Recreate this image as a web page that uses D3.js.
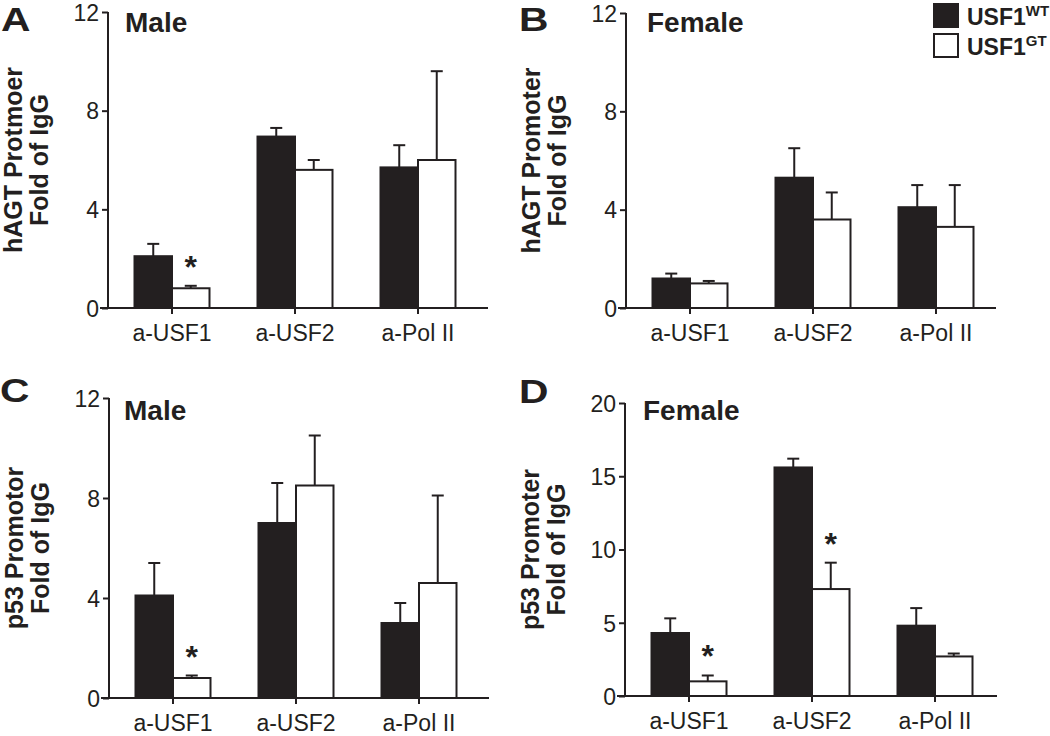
<!DOCTYPE html>
<html>
<head>
<meta charset="utf-8">
<script src="https://cdn.jsdelivr.net/npm/d3@7"></script>
<style>
  html, body { margin: 0; padding: 0; background: #fff; }
  svg { display: block; font-family: "Liberation Sans", Arial, Helvetica, sans-serif; }
</style>
</head>
<body>
<svg id="chart" width="1050" height="736"></svg>
<script>
// ---------------- data ----------------
const categories = ["a-USF1", "a-USF2", "a-Pol II"];
const seriesNames = ["USF1", "USF1"];
const seriesSup = ["WT", "GT"];

const aWT = [2.1, 6.95, 5.7];
const aWTerr = [0.5, 0.35, 0.9];
const aGT = [0.8, 5.6, 6.0];
const aGTerr = [0.1, 0.4, 3.6];
const aStar = [true, false, false];

const bWT = [1.2, 5.3, 4.1];
const bWTerr = [0.2, 1.2, 0.9];
const bGT = [1.0, 3.6, 3.3];
const bGTerr = [0.1, 1.1, 1.7];
const bStar = [false, false, false];

const cWT = [4.1, 7.0, 3.0];
const cWTerr = [1.3, 1.6, 0.8];
const cGT = [0.8, 8.5, 4.6];
const cGTerr = [0.1, 2.0, 3.5];
const cStar = [true, false, false];

const dWT = [4.3, 15.6, 4.8];
const dWTerr = [1.0, 0.6, 1.2];
const dGT = [1.0, 7.3, 2.7];
const dGTerr = [0.4, 1.8, 0.2];
const dStar = [true, true, false];

const yTicksAB = [0, 4, 8, 12];
const yTicksC = [0, 4, 8, 12];
const yTicksD = [0, 5, 10, 15, 20];

const panelLetters = ["A", "B", "C", "D"];
const panelTitles = ["Male", "Female", "Male", "Female"];
const yTitles = [
  ["hAGT Protmoer", "Fold of IgG"],
  ["hAGT Promoter", "Fold of IgG"],
  ["p53 Promotor", "Fold of IgG"],
  ["p53 Promoter", "Fold of IgG"]
];

// ---------------- layout ----------------
const INK = "#231f20";
const layout = [
  { axisX: 108, y0: 308, yTop: 12, max: 12, ticks: yTicksAB, axisEnd: 380, letterX: 1, letterY: 31, titleX: 125, titleY: 32 },
  { axisX: 626, y0: 308, yTop: 13, max: 12, ticks: yTicksAB, axisEnd: 370, letterX: 519, letterY: 31, titleX: 647, titleY: 32 },
  { axisX: 109, y0: 698, yTop: 398, max: 12, ticks: yTicksC, axisEnd: 380, letterX: 0, letterY: 402, titleX: 124, titleY: 420 },
  { axisX: 625, y0: 696, yTop: 403, max: 20, ticks: yTicksD, axisEnd: 372, letterX: 519, letterY: 403, titleX: 643, titleY: 420 }
];
const panelData = [
  { wt: aWT, wtErr: aWTerr, gt: aGT, gtErr: aGTerr, star: aStar },
  { wt: bWT, wtErr: bWTerr, gt: bGT, gtErr: bGTerr, star: bStar },
  { wt: cWT, wtErr: cWTerr, gt: cGT, gtErr: cGTerr, star: cStar },
  { wt: dWT, wtErr: dWTerr, gt: dGT, gtErr: dGTerr, star: dStar }
];

const svg = d3.select("#chart");

layout.forEach((L, pi) => {
  const D = panelData[pi];
  const g = svg.append("g");

  const y = d3.scaleLinear().domain([0, L.max]).range([L.y0, L.yTop]);
  const x = d3.scaleBand().domain(categories)
    .range([L.axisX + 2.5, L.axisX + 371.5]).paddingInner(0).paddingOuter(0);
  const barW = 37.5;

  const rows = categories.map((c, i) => ({
    c, i, wt: D.wt[i], wtErr: D.wtErr[i], gt: D.gt[i], gtErr: D.gtErr[i], star: D.star[i]
  }));

  // error bars (drawn first, behind bars)
  const errG = g.append("g").attr("stroke", INK).attr("stroke-width", 2).attr("fill", "none");
  rows.forEach(r => {
    const cx = x(r.c) + x.bandwidth() / 2;
    [[cx - barW / 2, r.wt, r.wtErr], [cx + barW / 2, r.gt, r.gtErr]].forEach(([mx, v, e]) => {
      errG.append("line").attr("x1", mx).attr("x2", mx).attr("y1", y(v)).attr("y2", y(v + e));
      errG.append("line").attr("x1", mx - 6).attr("x2", mx + 6).attr("y1", y(v + e)).attr("y2", y(v + e));
    });
  });

  const barG = g.append("g");
  barG.selectAll("rect.wt").data(rows).join("rect")
    .attr("class", "wt")
    .attr("x", d => x(d.c) + x.bandwidth() / 2 - barW)
    .attr("width", barW)
    .attr("y", d => y(d.wt))
    .attr("height", d => y(0) - y(d.wt))
    .attr("fill", INK).attr("stroke", INK).attr("stroke-width", 2);
  barG.selectAll("rect.gt").data(rows).join("rect")
    .attr("class", "gt")
    .attr("x", d => x(d.c) + x.bandwidth() / 2)
    .attr("width", barW)
    .attr("y", d => y(d.gt))
    .attr("height", d => y(0) - y(d.gt))
    .attr("fill", "#fff").attr("stroke", INK).attr("stroke-width", 2);

  // significance stars
  g.selectAll("text.star").data(rows.filter(r => r.star)).join("text")
    .attr("class", "star")
    .attr("x", d => x(d.c) + x.bandwidth() / 2 + barW / 2)
    .attr("y", d => y(d.gt + d.gtErr) - 8)
    .attr("text-anchor", "middle")
    .attr("font-size", 32).attr("font-weight", "bold").attr("fill", INK)
    .text("*");

  // y axis
  const yAxis = d3.axisLeft(y).tickValues(L.ticks).tickSize(6).tickPadding(3).tickSizeOuter(0);
  const ya = g.append("g").attr("transform", `translate(${L.axisX},0)`).call(yAxis);
  ya.select(".domain").attr("stroke", INK).attr("stroke-width", 2).attr("d", `M0,${L.yTop}V${L.y0}`);
  ya.selectAll(".tick line").attr("stroke", INK).attr("stroke-width", 2);
  ya.selectAll(".tick text").attr("font-size", 23).attr("fill", INK).attr("dy", "0.36em")
    .attr("font-family", "'Liberation Sans', Arial, sans-serif");

  // x axis
  const xAxis = d3.axisBottom(x).tickSize(6).tickPadding(11).tickSizeOuter(0);
  const xa = g.append("g").attr("transform", `translate(0,${L.y0})`).call(xAxis);
  xa.select(".domain").attr("stroke", INK).attr("stroke-width", 2)
    .attr("d", `M${L.axisX - 8},0H${L.axisX + L.axisEnd}`);
  xa.selectAll(".tick line").attr("stroke", INK).attr("stroke-width", 2);
  xa.selectAll(".tick text").attr("font-size", 23).attr("fill", INK)
    .attr("font-family", "'Liberation Sans', Arial, sans-serif");

  // y title (two lines, rotated)
  const midY = (L.y0 + L.yTop) / 2;
  yTitles[pi].forEach((t, li) => {
    g.append("text")
      .attr("transform", `translate(${L.axisX - 86 + li * 26},${midY}) rotate(-90)`)
      .attr("text-anchor", "middle")
      .attr("font-size", 25).attr("font-weight", "bold").attr("fill", INK)
      .text(t);
  });

  // panel letter (slightly wide, as in the reference)
  g.append("text")
    .attr("transform", `translate(${L.letterX},${L.letterY}) scale(1.2,1)`)
    .attr("font-size", 34).attr("font-weight", "bold").attr("fill", INK)
    .text(panelLetters[pi]);

  // panel title
  g.append("text").attr("x", L.titleX).attr("y", L.titleY)
    .attr("font-size", 28).attr("font-weight", "bold").attr("fill", INK)
    .text(panelTitles[pi]);
});

// legend
const leg = svg.append("g");
const legFill = [INK, "#fff"];
seriesNames.forEach((n, i) => {
  leg.append("rect").attr("x", 934).attr("y", 4 + i * 30).attr("width", 24).attr("height", 23)
    .attr("fill", legFill[i]).attr("stroke", INK).attr("stroke-width", 2);
  const t = leg.append("text").attr("x", 967).attr("y", 25 + i * 30)
    .attr("font-size", 23).attr("font-weight", "bold").attr("fill", INK);
  t.append("tspan").text(n);
  t.append("tspan").attr("font-size", 15).attr("dy", -9).text(seriesSup[i]);
});
</script>
</body>
</html>
